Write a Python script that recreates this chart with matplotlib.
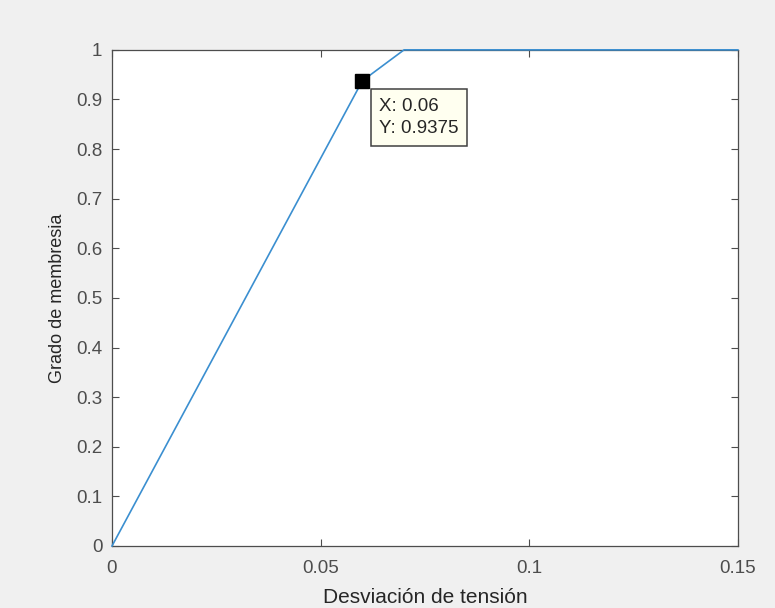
import matplotlib
matplotlib.use('Agg')
import matplotlib.pyplot as plt

# datos de la curva de membresia
x_vals = [0, 0.06, 0.07, 0.15]
y_vals = [0, 0.9375, 1, 1]

# data tip
tip_x = 0.06
tip_y = 0.9375

x_ticks = [0, 0.05, 0.1, 0.15]
x_labels = ['0', '0.05', '0.1', '0.15']
y_ticks = [0, 0.1, 0.2, 0.3, 0.4, 0.5, 0.6, 0.7, 0.8, 0.9, 1]
y_labels = ['0', '0.1', '0.2', '0.3', '0.4', '0.5', '0.6', '0.7', '0.8', '0.9', '1']

plt.rcParams['font.family'] = ['Liberation Sans', 'DejaVu Sans']

fig = plt.figure(figsize=(7.75, 6.08), dpi=100, facecolor='#f0f0f0')
ax = fig.add_axes([0.1445, 0.102, 0.8075, 0.816])
ax.set_facecolor('white')

ax.plot(x_vals, y_vals, color='#3b8fd0', linewidth=1.2, clip_on=False, zorder=5)
ax.plot([tip_x], [tip_y], marker='s', color='black', markersize=9.5,
        linestyle='none', zorder=6)

ax.annotate(f'X: {tip_x:g}\nY: {tip_y:g}', xy=(tip_x, tip_y),
            xytext=(17, -17), textcoords='offset pixels',
            ha='left', va='top', fontsize=13.5, color='#262626', linespacing=1.4,
            bbox=dict(boxstyle='square,pad=0.45', facecolor='#fffff0',
                      edgecolor='#404040', linewidth=1.1), zorder=7)

ax.set_xlim(0, 0.15)
ax.set_ylim(0, 1)
ax.set_xticks(x_ticks)
ax.set_xticklabels(x_labels)
ax.set_yticks(y_ticks)
ax.set_yticklabels(y_labels)

ax.tick_params(direction='in', top=True, right=True, length=5, width=0.8,
               colors='#4d4d4d', labelsize=13.5, labelcolor='#4d4d4d')
ax.tick_params(axis='x', pad=10)
ax.tick_params(axis='y', pad=7)
for sp in ax.spines.values():
    sp.set_color('#4d4d4d')
    sp.set_linewidth(0.9)

ax.set_xlabel('Desviación de tensión', fontsize=15, color='#262626', labelpad=8)
ax.set_ylabel('Grado de membresia', fontsize=13, color='#262626', labelpad=7)

plt.savefig('out.png', dpi=100, facecolor=fig.get_facecolor())
